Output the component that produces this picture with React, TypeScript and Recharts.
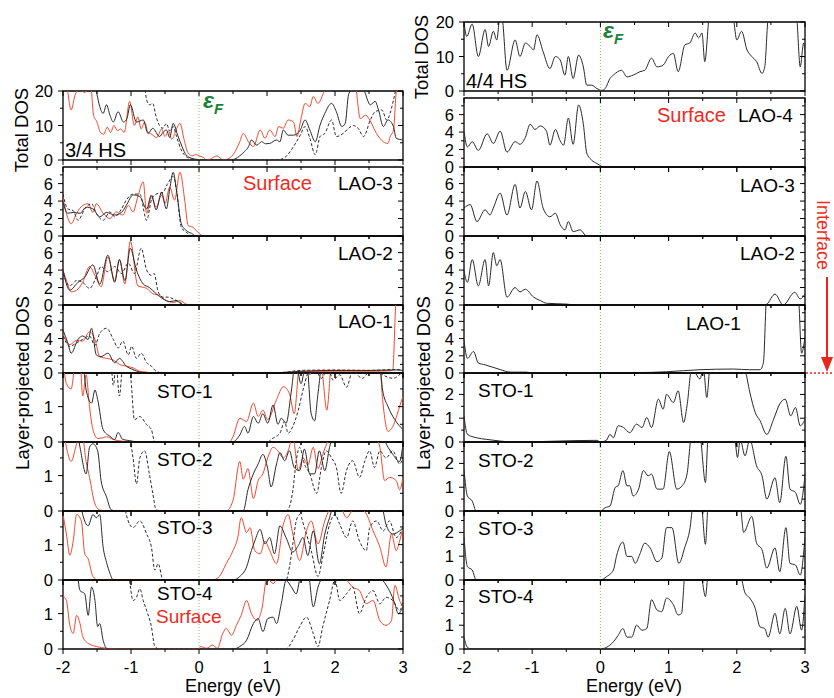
import React from "react";
import { LineChart, Line, XAxis, YAxis, ReferenceLine, ReferenceArea } from "recharts";

type Pt = [number, number];

// energy ticks (eV)
const xTicks = [-2, -1.5, -1, -0.5, 0, 0.5, 1, 1.5, 2, 2.5, 3];

// ---- 3/4 HS (left column) ----
const tot34Red: Pt[] = [[-2,24],[-1.95,22],[-1.88,14.5],[-1.82,19],[-1.75,20.5],[-1.68,19.5],[-1.6,23],[-1.55,13],[-1.5,11],[-1.45,8],[-1.4,7.5],[-1.35,9.5],[-1.3,8],[-1.25,10],[-1.2,8.5],[-1.15,9],[-1.1,8],[-1.02,17],[-0.95,10],[-0.9,12.5],[-0.85,9],[-0.8,11],[-0.75,8],[-0.7,7.5],[-0.62,6.5],[-0.55,9],[-0.5,6.8],[-0.45,8.5],[-0.4,6],[-0.35,8],[-0.28,10.6],[-0.22,6],[-0.16,2],[-0.1,1.2],[-0.04,1.6],[0,1.2],[0.06,0.8],[0.11,0.1],[0.16,0.2],[0.26,1.2],[0.36,0],[0.45,0.6],[0.5,1.5],[0.6,5.3],[0.65,7.7],[0.73,5.2],[0.8,3.9],[0.9,8.7],[0.97,6.3],[1.04,8.7],[1.12,6.8],[1.17,9.7],[1.24,9.2],[1.31,11.6],[1.39,11],[1.44,6.8],[1.5,12],[1.56,16.4],[1.63,15.5],[1.68,18.4],[1.75,16.4],[1.83,19.3],[1.88,21],[1.93,20],[2,23],[2.1,25],[2.2,22],[2.3,21],[2.37,12],[2.45,13],[2.51,11.6],[2.61,7.7],[2.71,5.3],[2.78,4.8],[2.81,6.7],[2.86,8.7],[2.9,19.5],[2.96,24],[3,25]];
const tot34Blk: Pt[] = [[-2,25],[-1.7,25],[-1.55,24],[-1.5,19],[-1.46,15.5],[-1.41,13.5],[-1.36,16],[-1.31,13],[-1.26,11],[-1.19,14],[-1.11,11],[-1.06,12],[-1.01,16],[-0.92,11],[-0.82,11.6],[-0.75,7.7],[-0.68,9.2],[-0.58,6.8],[-0.53,8],[-0.48,8.7],[-0.43,6.5],[-0.38,10.6],[-0.31,7],[-0.25,3.9],[-0.19,1.5],[-0.11,0.5],[-0.04,0.2],[0.05,0],[0.46,0],[0.53,0.3],[0.6,1.2],[0.67,2.5],[0.73,3.9],[0.77,5.8],[0.85,4.3],[0.92,5.3],[0.98,4.7],[1.04,4.8],[1.14,5.8],[1.19,5.3],[1.24,8.7],[1.31,7.2],[1.39,7.2],[1.49,8.7],[1.56,11.6],[1.63,8.7],[1.71,5.3],[1.78,10.1],[1.85,13.5],[1.95,16.4],[2.02,14],[2.1,9.7],[2.15,10.6],[2.2,19],[2.27,21],[2.35,22],[2.42,20.5],[2.52,16],[2.59,17],[2.64,14.5],[2.71,9.7],[2.78,11.6],[2.86,9.7],[2.9,6.3],[3,5.8]];
const tot34Dsh: Pt[] = [[-2,26],[-0.85,25],[-0.8,21],[-0.77,17.4],[-0.73,16],[-0.68,16.4],[-0.63,12.5],[-0.58,10],[-0.53,9.2],[-0.48,10.6],[-0.43,8.5],[-0.38,9.7],[-0.33,6.8],[-0.26,2.9],[-0.19,1],[-0.09,0.2],[0,0],[1.14,0],[1.22,0.3],[1.29,1.2],[1.39,3.9],[1.49,7.2],[1.56,9.7],[1.63,6.3],[1.71,1.5],[1.78,6.8],[1.85,7.7],[1.95,11.6],[2.02,6.8],[2.12,7.7],[2.2,9.2],[2.27,10],[2.34,9.2],[2.42,6.8],[2.52,11.6],[2.59,14],[2.69,14.5],[2.76,11.6],[2.86,17.4],[2.9,21],[2.95,25],[3,26]];

const lao3Red: Pt[] = [[-2,4.3],[-1.95,2.6],[-1.88,1.4],[-1.8,2.6],[-1.71,3.5],[-1.63,3.7],[-1.56,2.7],[-1.51,3.7],[-1.41,2.6],[-1.31,2],[-1.22,2.75],[-1.12,2.4],[-1.04,3.5],[-0.97,2.75],[-0.9,4.5],[-0.82,6.2],[-0.77,2.6],[-0.7,4.5],[-0.63,3.3],[-0.55,4.7],[-0.5,3.7],[-0.43,5.6],[-0.36,4.1],[-0.28,7.3],[-0.21,4.1],[-0.16,1.2],[-0.09,1],[0,0.3],[0.06,0],[3,0]];
const lao3Blk: Pt[] = [[-2,3.9],[-1.93,2.6],[-1.85,2.7],[-1.75,2.6],[-1.66,3.3],[-1.56,3.1],[-1.46,2.2],[-1.36,2.7],[-1.24,2.4],[-1.14,2.7],[-1.07,3.5],[-0.97,4.7],[-0.87,4.5],[-0.77,3.1],[-0.7,4.7],[-0.63,3],[-0.55,5],[-0.48,3.1],[-0.43,5.4],[-0.38,7.3],[-0.33,5.2],[-0.26,1.4],[-0.19,0.65],[-0.11,0.3],[-0.04,0],[3,0]];
const lao3Dsh: Pt[] = [[-2,4.8],[-1.93,3.1],[-1.85,2.9],[-1.78,1.8],[-1.68,3.1],[-1.58,3.7],[-1.51,2.6],[-1.41,1.8],[-1.31,2.75],[-1.24,2.2],[-1.14,3.1],[-1.07,4.1],[-0.97,4.8],[-0.87,4.8],[-0.77,1.8],[-0.7,4.1],[-0.63,4.8],[-0.53,5],[-0.46,6],[-0.38,6.8],[-0.33,5.2],[-0.26,1],[-0.19,0.45],[-0.09,0],[3,0]];

const lao2Red: Pt[] = [[-2,4],[-1.95,2.8],[-1.88,1.5],[-1.8,1.7],[-1.71,2.6],[-1.61,4.4],[-1.53,3.4],[-1.44,2.1],[-1.34,5.5],[-1.24,2.8],[-1.17,5.2],[-1.09,2.4],[-1.01,7.3],[-0.9,2.2],[-0.77,1.9],[-0.68,1.3],[-0.58,1.1],[-0.48,0.5],[-0.38,0.3],[-0.28,0.5],[-0.19,0.1],[-0.14,0],[3,0]];
const lao2Blk: Pt[] = [[-2,4],[-1.9,1.7],[-1.78,2.6],[-1.68,3.2],[-1.56,4.6],[-1.46,2.4],[-1.34,5.7],[-1.24,2.6],[-1.17,5.2],[-1.09,2.8],[-1.01,6.5],[-0.92,4],[-0.82,2.4],[-0.73,2],[-0.63,1.3],[-0.53,0.7],[-0.43,0.4],[-0.33,0.5],[-0.24,0],[3,0]];
const lao2Dsh: Pt[] = [[-2,3.6],[-1.9,2.2],[-1.8,2.8],[-1.71,2.6],[-1.61,1.9],[-1.51,3.2],[-1.44,4.4],[-1.34,3.8],[-1.24,4.4],[-1.14,3.6],[-1.04,4.8],[-0.95,3.6],[-0.85,6.5],[-0.77,4],[-0.7,3.4],[-0.66,3.6],[-0.6,1.5],[-0.53,0.9],[-0.46,0.9],[-0.38,0.7],[-0.28,0.3],[-0.2,0],[3,0]];

const lao1Red: Pt[] = [[-2,4.5],[-1.9,3.3],[-1.8,3.8],[-1.71,3.7],[-1.61,4.8],[-1.53,3.9],[-1.46,1.9],[-1.36,1.7],[-1.26,1.5],[-1.17,1],[-1.07,0.8],[-0.97,0.6],[-0.87,0.2],[-0.77,0.1],[-0.68,0],[1.2,0.05],[1.5,0.15],[2,0.2],[2.5,0.2],[2.8,0.25],[2.85,0.4],[2.9,8.5],[3,9]];
const lao1Blk: Pt[] = [[-2,5],[-1.93,3.5],[-1.88,2.3],[-1.78,3.9],[-1.71,4.3],[-1.63,3.9],[-1.58,5.2],[-1.51,2.1],[-1.44,1.9],[-1.34,2.3],[-1.24,1.2],[-1.17,1.7],[-1.07,0.8],[-0.97,0.4],[-0.87,0.1],[-0.77,0],[1.2,0.05],[1.5,0.2],[2,0.3],[2.5,0.3],[2.9,0.35],[3,0.3]];
const lao1Dsh: Pt[] = [[-2,4.3],[-1.9,3.1],[-1.8,3.5],[-1.71,3.9],[-1.61,4.3],[-1.53,3.2],[-1.46,4.6],[-1.36,5.2],[-1.26,3.9],[-1.19,2.9],[-1.12,3.7],[-1.04,2.1],[-0.99,3.1],[-0.92,1.7],[-0.85,2.3],[-0.77,1.2],[-0.7,0.8],[-0.63,0.2],[-0.53,0],[1.2,0.05],[1.5,0.3],[2,0.35],[2.5,0.3],[2.9,0.4],[3,0.3]];

const sto1Red: Pt[] = [[-2,2.3],[-1.95,1.65],[-1.88,1.5],[-1.82,2.2],[-1.75,2.3],[-1.71,1.3],[-1.66,1.9],[-1.61,1],[-1.56,0.35],[-1.49,0.1],[-1.41,0.12],[-1.36,0.15],[-1.26,0.07],[-1.12,0.02],[-1,0],[0.45,0],[0.5,0.15],[0.6,0.67],[0.7,0.58],[0.8,1.1],[0.87,0.72],[0.94,0.9],[1.01,0.63],[1.14,1.2],[1.24,1.56],[1.33,1.37],[1.4,0.8],[1.48,2.2],[1.56,2.3],[1.63,1.9],[1.7,2.3],[1.8,2.1],[1.88,0.9],[1.95,2.2],[2.1,2.3],[2.3,2.2],[2.5,2.3],[2.62,2.1],[2.66,2.1],[2.7,1.2],[2.78,0.3],[2.85,0.44],[2.95,1],[3,1.3]];
const sto1Blk: Pt[] = [[-2,2.4],[-1.8,2.3],[-1.7,2.1],[-1.66,1.47],[-1.58,1.1],[-1.53,1.47],[-1.49,1.2],[-1.41,0.35],[-1.31,0.16],[-1.24,0.07],[-1.19,0.27],[-1.12,0.07],[-1.02,0.04],[-0.9,0],[0.5,0],[0.55,0.07],[0.6,0.2],[0.67,0.44],[0.72,0.25],[0.8,0.72],[0.87,0.53],[0.94,0.8],[1.01,0.53],[1.09,1.05],[1.16,0.5],[1.21,0.67],[1.28,0.53],[1.36,1.47],[1.42,2.3],[1.5,1.65],[1.58,2.3],[1.65,0.8],[1.7,0.6],[1.75,1.37],[1.82,2.3],[2,2.2],[2.2,2.3],[2.4,2.1],[2.6,2.2],[2.66,2.1],[2.7,1.47],[2.78,1],[2.88,0.63],[3,0.35]];
const sto1Dsh: Pt[] = [[-2,2.4],[-1.3,2.3],[-1.26,1.6],[-1.22,2.2],[-1.17,1.3],[-1.12,2.2],[-1.04,2.3],[-1,1.75],[-0.95,0.63],[-0.87,0.72],[-0.77,0.49],[-0.7,0.35],[-0.65,0],[1,0],[1.09,0.11],[1.19,0.25],[1.26,0.58],[1.31,0.25],[1.38,0.44],[1.46,0.9],[1.53,1.47],[1.6,1.95],[1.68,2.2],[1.8,1.8],[1.9,2.1],[1.97,1.75],[2.07,1.9],[2.17,1.55],[2.26,2],[2.4,1.8],[2.55,2.1],[2.7,1.9],[2.85,1.8],[3,2]];

const sto2Red: Pt[] = [[-2,2.3],[-1.95,1.8],[-1.88,1.4],[-1.8,1.9],[-1.73,2.3],[-1.66,1.4],[-1.61,0.95],[-1.53,0.2],[-1.46,0.03],[-1.36,0],[0.4,0],[0.5,0.3],[0.6,1.4],[0.65,0.9],[0.72,1.2],[0.8,0.35],[0.87,0.86],[0.94,1.05],[1.01,1.5],[1.09,1.8],[1.16,1.7],[1.24,1.5],[1.31,1.7],[1.38,2.1],[1.46,1.15],[1.53,1.5],[1.6,1.3],[1.68,1.8],[1.75,1.2],[1.82,1.6],[1.9,2],[2,2.3],[2.2,2.2],[2.4,2.3],[2.6,2.1],[2.66,1.8],[2.73,0.86],[2.8,0.95],[2.9,0.86],[2.95,0.6],[3,0.95]];
const sto2Blk: Pt[] = [[-2,2.4],[-1.8,2.3],[-1.75,1.8],[-1.66,1.05],[-1.61,1.8],[-1.56,1.9],[-1.49,1.7],[-1.44,0.86],[-1.36,0.4],[-1.29,0.03],[-1.2,0],[0.65,0],[0.72,0.6],[0.8,1.05],[0.87,1.33],[0.94,1.6],[1.01,1.2],[1.06,0.68],[1.14,1.33],[1.19,1.65],[1.26,1.42],[1.33,1.7],[1.4,1.23],[1.48,1.14],[1.55,1.75],[1.63,1.05],[1.7,1.05],[1.77,1.7],[1.85,1.14],[1.92,1.8],[2,2.2],[2.2,2.3],[2.4,2.2],[2.6,2.3],[2.7,2.1],[2.78,1.8],[2.85,1.6],[2.95,1.4],[3,1.9]];
const sto2Dsh: Pt[] = [[-2,2.4],[-1.05,2.3],[-0.97,1.5],[-0.92,0.77],[-0.87,1.5],[-0.8,1.7],[-0.73,1.05],[-0.68,0.5],[-0.63,0.03],[-0.55,0],[1.28,0],[1.33,0.12],[1.38,0.58],[1.43,1.42],[1.48,1.8],[1.55,1.33],[1.63,1.05],[1.73,0.5],[1.8,1.23],[1.87,1.7],[1.95,1.5],[2.02,1.23],[2.09,0.5],[2.17,1.15],[2.26,1.42],[2.36,0.95],[2.44,1.42],[2.51,1.7],[2.58,1.23],[2.66,1.7],[2.75,1.5],[2.85,1.7],[2.95,1.33],[3,1.5]];

const sto3Red: Pt[] = [[-2,1.85],[-1.95,1.3],[-1.9,0.7],[-1.85,1.1],[-1.8,1.85],[-1.73,1.67],[-1.68,0.74],[-1.63,0.6],[-1.56,0.1],[-1.48,0],[0.2,0],[0.3,0.1],[0.4,0.46],[0.5,0.83],[0.57,1.2],[0.62,1.76],[0.7,1.34],[0.75,1.48],[0.82,0.83],[0.9,0.74],[0.97,1.1],[1.04,0.83],[1.14,0.46],[1.24,1.57],[1.31,1.85],[1.38,1.3],[1.48,0.55],[1.58,1.39],[1.65,1.67],[1.75,1.02],[1.85,1.67],[1.92,2],[2.05,2.2],[2.17,1.76],[2.3,2.1],[2.45,1.9],[2.56,1.39],[2.66,0.93],[2.75,0.37],[2.83,1.3],[2.9,0.83],[2.95,1.1],[3,1.48]];
const sto3Blk: Pt[] = [[-2,2.4],[-1.75,2.2],[-1.71,1.85],[-1.63,1.53],[-1.56,1.85],[-1.51,1.76],[-1.46,1.85],[-1.41,0.93],[-1.36,0.5],[-1.31,0.19],[-1.26,0],[0.5,0],[0.6,0.1],[0.7,0.37],[0.77,0.83],[0.82,1.1],[0.9,1.43],[0.97,1.02],[1.04,1.2],[1.11,0.74],[1.19,1.53],[1.28,1.2],[1.38,0.79],[1.46,0.97],[1.53,1.2],[1.6,0.69],[1.68,1.39],[1.77,0.46],[1.85,1.3],[1.92,1.76],[2,2.2],[2.3,2.3],[2.6,2.2],[2.7,2],[2.75,1.57],[2.85,1.3],[2.95,1.39],[3,1.48]];
const sto3Dsh: Pt[] = [[-2,2.4],[-1.1,2.2],[-1.07,1.85],[-0.97,1.48],[-0.87,1.67],[-0.77,1.3],[-0.7,0.93],[-0.65,0.28],[-0.6,0.46],[-0.53,0],[1.28,0],[1.33,0.37],[1.38,1.02],[1.43,1.67],[1.48,1.85],[1.55,1.48],[1.65,0.83],[1.75,0.1],[1.82,0.65],[1.92,1.57],[2,1.85],[2.07,1.57],[2.17,1.2],[2.26,1.67],[2.36,1.1],[2.46,0.83],[2.51,1.48],[2.61,1.67],[2.71,1.39],[2.8,1.67],[2.9,1.2],[3,1.48]];

const sto4Red: Pt[] = [[-2,1.5],[-1.95,1.37],[-1.9,0.67],[-1.85,0.44],[-1.8,0.95],[-1.75,0.72],[-1.71,0.35],[-1.63,0.16],[-1.51,0.07],[-1.36,0.02],[-1.2,0],[0,0],[0.02,0.07],[0.11,0.02],[0.2,0.11],[0.27,0.02],[0.35,0.44],[0.4,0.58],[0.48,0.39],[0.55,0.67],[0.62,0.95],[0.7,1.37],[0.77,1],[0.85,0.81],[0.92,1.09],[1,2],[1.09,1.85],[1.2,2.2],[1.4,2.3],[1.6,2.2],[1.8,2.3],[2,2.2],[2.15,2],[2.26,1.75],[2.36,1.65],[2.46,1.28],[2.56,1.37],[2.66,0.8],[2.75,0.67],[2.83,0.8],[2.88,1.8],[2.95,1.37],[3,1.2]];
const sto4Blk: Pt[] = [[-2,2.4],[-1.8,2.2],[-1.75,1.65],[-1.68,1.56],[-1.63,0.95],[-1.58,1.75],[-1.53,1.37],[-1.49,0.63],[-1.46,0.72],[-1.41,0.25],[-1.36,0.02],[-1.3,0],[0.5,0],[0.6,0.07],[0.7,0.25],[0.8,0.72],[0.87,0.86],[0.94,0.49],[1.01,0.86],[1.09,0.9],[1.14,0.72],[1.21,1.28],[1.28,1.93],[1.36,1.75],[1.43,1.56],[1.5,2.1],[1.6,2.2],[1.68,1.19],[1.75,1.75],[1.85,2.1],[2.1,2.3],[2.5,2.2],[2.8,1.65],[2.88,1.28],[2.93,1],[3,1.2]];
const sto4Dsh: Pt[] = [[-2,2.4],[-1.05,2.2],[-0.97,1.37],[-0.92,1.46],[-0.87,1.7],[-0.82,1.37],[-0.77,1.09],[-0.7,0.63],[-0.65,0.07],[-0.58,0],[1.28,0],[1.38,0.25],[1.48,0.63],[1.58,0.9],[1.68,0.44],[1.75,0.07],[1.82,0.63],[1.92,1.37],[2,1.95],[2.07,1.37],[2.17,1.56],[2.26,1.75],[2.36,1],[2.46,1.46],[2.56,1.65],[2.66,1.28],[2.75,1.46],[2.85,1.37],[2.95,1.09],[3,1.37]];

// ---- 4/4 HS (right column) ----
const tot44: Pt[] = [[-2,20],[-1.96,15.8],[-1.88,19.4],[-1.79,10],[-1.69,17.8],[-1.64,12.9],[-1.57,17.3],[-1.52,14.8],[-1.47,22],[-1.44,21],[-1.37,6],[-1.25,14.8],[-1.18,10],[-1.1,13.9],[-1.03,12.9],[-0.98,11.9],[-0.93,16.3],[-0.84,11.4],[-0.74,6.5],[-0.66,10],[-0.59,9],[-0.52,4.6],[-0.47,10],[-0.4,3.6],[-0.32,10.4],[-0.25,7],[-0.2,1.7],[-0.13,1.7],[-0.05,0.7],[0.02,0.2],[0.07,0.7],[0.14,3.6],[0.19,4.6],[0.31,6],[0.39,4.1],[0.48,4.6],[0.58,5.6],[0.65,6],[0.75,9.5],[0.83,7],[0.92,7.5],[1,10],[1.07,10.9],[1.14,5.6],[1.24,13.4],[1.31,13.9],[1.39,16.8],[1.44,15.4],[1.49,16.8],[1.53,8.5],[1.6,22],[1.75,26],[1.9,24],[1.95,21],[2,14.8],[2.07,17.3],[2.15,11.9],[2.22,10],[2.29,8.5],[2.37,5.1],[2.41,7],[2.46,21],[2.6,26],[2.85,25],[2.88,21],[2.93,7],[2.98,13.9],[3,12]];
const lao4R: Pt[] = [[-2,4.1],[-1.95,2.3],[-1.88,2.9],[-1.79,1.9],[-1.66,3.8],[-1.57,2.7],[-1.47,4.1],[-1.37,1.7],[-1.25,2.9],[-1.18,2.6],[-1.1,3.4],[-1.03,4.9],[-0.96,4.3],[-0.88,4.7],[-0.79,4.1],[-0.74,2.5],[-0.66,4.3],[-0.59,3],[-0.54,2.5],[-0.47,5.6],[-0.4,2.6],[-0.32,7.1],[-0.25,4.9],[-0.2,1.6],[-0.13,0.8],[-0.05,0.4],[0.02,0.07],[0.07,0],[3,0]];
const lao3R: Pt[] = [[-2,3.2],[-1.91,3.6],[-1.81,1.65],[-1.69,3],[-1.62,2.4],[-1.57,3.2],[-1.47,4.9],[-1.37,2.4],[-1.25,5.9],[-1.18,3.2],[-1.1,5.1],[-1.01,3],[-0.93,6.3],[-0.84,3.2],[-0.74,2.2],[-0.66,2.6],[-0.59,1.3],[-0.52,0.7],[-0.47,1.65],[-0.4,0.5],[-0.3,0.7],[-0.2,0],[3,0]];
const lao2R: Pt[] = [[-2,3.9],[-1.95,2.6],[-1.88,5.2],[-1.79,2.2],[-1.69,5.2],[-1.64,2.2],[-1.57,6],[-1.52,4.5],[-1.47,5.2],[-1.37,0.9],[-1.25,2],[-1.18,1.5],[-1.1,1.8],[-0.98,0.9],[-0.88,0.5],[-0.79,0.2],[-0.49,0.1],[-0.35,0],[2.4,0],[2.44,0.1],[2.56,1.25],[2.68,0],[2.85,1.45],[2.93,0.7],[3,1.25]];
const lao1R: Pt[] = [[-2,3.8],[-1.95,1.7],[-1.86,2.5],[-1.79,1.15],[-1.69,0.95],[-1.59,0.7],[-1.47,0.4],[-1.32,0.1],[-1.08,0.1],[-1,0],[0.73,0.07],[1.22,0.27],[1.46,0.38],[1.95,0.46],[2.19,0.38],[2.34,0.38],[2.39,1.2],[2.44,9],[2.9,9],[2.95,2.3],[3,4.2]];
const sto1R: Pt[] = [[-2,1.1],[-1.95,0.32],[-1.82,0.18],[-1.67,0.11],[-1.47,0.04],[-1.28,0],[-0.05,0.07],[0,0],[0.09,0.08],[0.14,0.32],[0.19,0.18],[0.26,0.68],[0.34,0.61],[0.43,0.39],[0.53,0.75],[0.61,0.61],[0.68,1.03],[0.75,0.61],[0.85,1.8],[0.92,1.38],[0.97,2],[1.07,1.66],[1.14,2.15],[1.22,0.82],[1.27,1.52],[1.34,3.1],[1.46,2.65],[1.51,3.1],[1.56,1.87],[1.61,3.2],[1.8,3.4],[2,3.3],[2.12,3],[2.19,2.1],[2.27,1.24],[2.34,0.9],[2.44,0.32],[2.54,0.96],[2.63,1.6],[2.71,1.8],[2.79,1.1],[2.86,1.45],[2.93,0.68],[3,0.96]];
const sto2R: Pt[] = [[-2,1.76],[-1.95,0.63],[-1.88,0.42],[-1.82,0],[0,0],[0.07,0.14],[0.14,0.21],[0.22,1],[0.26,1.06],[0.33,1.7],[0.39,1.06],[0.43,1.06],[0.48,0.63],[0.56,0.92],[0.63,1.7],[0.7,1.48],[0.75,1.55],[0.83,0.92],[0.92,0.92],[1.01,2.5],[1.12,0.92],[1.2,1.06],[1.27,1.55],[1.34,3.2],[1.46,3.1],[1.54,1.2],[1.58,3.1],[1.8,3.4],[1.97,3],[2.01,2.25],[2.05,3],[2.12,2.32],[2.19,3],[2.29,1.9],[2.37,1.48],[2.44,0.5],[2.56,1.4],[2.63,0.35],[2.72,2.3],[2.78,0.92],[2.86,0.78],[2.93,0.28],[3,1.48]];
const sto3R: Pt[] = [[-2,1.8],[-1.95,0.56],[-1.88,0.42],[-1.82,0],[0,0],[0.09,0.14],[0.19,0.42],[0.24,1.05],[0.33,1.6],[0.39,0.99],[0.46,0.99],[0.51,0.7],[0.58,1.1],[0.65,1.55],[0.73,1.34],[0.83,0.77],[0.9,0.92],[0.97,2.2],[1.05,2.2],[1.15,0.7],[1.24,1.4],[1.31,2.1],[1.36,3.1],[1.48,3.1],[1.54,1.5],[1.58,3.1],[1.8,3.4],[2.05,3.1],[2.1,2],[2.22,2.67],[2.29,1.55],[2.37,1.27],[2.44,0.5],[2.56,1.35],[2.63,0.35],[2.72,2.2],[2.78,0.7],[2.86,0.63],[2.93,0.21],[3,1.8]];
const sto4R: Pt[] = [[-2,0.5],[-1.95,0.07],[-1.88,0],[0,0],[0.09,0.07],[0.19,0.3],[0.26,0.57],[0.33,0.86],[0.39,0.5],[0.46,0.5],[0.53,1],[0.61,0.79],[0.68,0.86],[0.75,2.07],[0.83,1.64],[0.9,1.57],[0.97,2.14],[1.07,1.86],[1.14,1.43],[1.19,1.5],[1.24,3.1],[1.45,3.3],[1.49,2.9],[1.54,2.2],[1.58,3.1],[1.8,3.4],[2.05,3.1],[2.12,2.36],[2.19,2.14],[2.27,1.71],[2.34,0.93],[2.41,0.86],[2.46,0.5],[2.56,1.5],[2.63,0.64],[2.71,1.71],[2.78,0.64],[2.88,1.79],[2.95,0.79],[3,2.3]];

const RED = "#f2482c";
const BLK = "#2a2a2a";
const FONT = "'Liberation Sans', Arial, Helvetica, sans-serif";

type Series = { pts: Pt[]; color: string; dash?: string };
type PanelProps = {
  left: number; top: number; w: number; h: number;
  yMax: number; yTicks: number[]; yLabels: number[];
  series: Series[]; xLabels?: boolean;
};

const LW = 44, TM = 10, RM = 6;

function Panel({ left, top, w, h, yMax, yTicks, yLabels, series, xLabels }: PanelProps) {
  const xh = xLabels ? 40 : 8;
  const xTick = (p: any) => {
    const v = p.payload.value;
    const len = Number.isInteger(v) ? 5 : 3;
    return (
      <g>
        <line x1={p.x} x2={p.x} y1={p.y} y2={p.y + len} stroke="#000" />
        <line x1={p.x} x2={p.x} y1={p.y - h} y2={p.y - h + len} stroke="#000" />
        {xLabels && Number.isInteger(v) && (
          <text x={p.x} y={p.y + 24} textAnchor="middle" fontSize={16.5} fill="#000">{v}</text>
        )}
      </g>
    );
  };
  const yTick = (p: any) => {
    const v = p.payload.value;
    const major = yLabels.includes(v);
    const len = major ? 5 : 3;
    return (
      <g>
        <line x1={p.x - len} x2={p.x} y1={p.y} y2={p.y} stroke="#000" />
        <line x1={p.x + w - len} x2={p.x + w} y1={p.y} y2={p.y} stroke="#000" />
        {major && (
          <text x={p.x - 10} y={p.y + 6} textAnchor="end" fontSize={16.5} fill="#000">{v}</text>
        )}
      </g>
    );
  };
  return (
    <div style={{ position: "absolute", left: left - LW, top: top - TM }}>
      <LineChart width={LW + w + RM} height={TM + h + xh} margin={{ top: TM, right: RM, bottom: 0, left: 0 }}>
        <XAxis dataKey="e" type="number" domain={[-2, 3]} ticks={xTicks} interval={0} height={xh}
          tickSize={0} tickMargin={0} axisLine={false} tickLine={false} tick={xTick} allowDataOverflow />
        <YAxis type="number" domain={[0, yMax]} ticks={yTicks} interval={0} width={LW}
          tickSize={0} tickMargin={0} axisLine={false} tickLine={false} tick={yTick} allowDataOverflow />
        <ReferenceLine x={0} stroke="#6fcf6f" strokeDasharray="1 2" strokeWidth={1} />
        {series.map((s, i) => (
          <Line key={i} data={s.pts.map(([e, d]) => ({ e, d }))} dataKey="d" type="monotone"
            stroke={s.color} strokeDasharray={s.dash} strokeWidth={1} dot={false} activeDot={false}
            isAnimationActive={false} />
        ))}
        <ReferenceArea x1={-2} x2={3} y1={0} y2={yMax} fill="none" fillOpacity={0} stroke="#000" strokeWidth={1.3} />
      </LineChart>
    </div>
  );
}

const totTicks = [0, 5, 10, 15, 20];
const laoTicks = [0, 1, 2, 3, 4, 5, 6, 7];
const stoLTicks = [0, 0.5, 1, 1.5];
const stoRTicks = [0, 0.5, 1, 1.5, 2, 2.5];

const three = (r: Pt[], b: Pt[], d: Pt[]): Series[] => [
  { pts: r, color: RED },
  { pts: d, color: BLK, dash: "3 2" },
  { pts: b, color: BLK },
];
const one = (b: Pt[]): Series[] => [{ pts: b, color: BLK }];

const leftRows = [
  { top: 167, h: 69, kind: "lao", s: three(lao3Red, lao3Blk, lao3Dsh) },
  { top: 236, h: 69, kind: "lao", s: three(lao2Red, lao2Blk, lao2Dsh) },
  { top: 305, h: 68, kind: "lao", s: three(lao1Red, lao1Blk, lao1Dsh) },
  { top: 373, h: 69, kind: "sto", s: three(sto1Red, sto1Blk, sto1Dsh) },
  { top: 442, h: 69, kind: "sto", s: three(sto2Red, sto2Blk, sto2Dsh) },
  { top: 511, h: 69, kind: "sto", s: three(sto3Red, sto3Blk, sto3Dsh) },
  { top: 580, h: 69, kind: "sto", s: three(sto4Red, sto4Blk, sto4Dsh) },
];
const rightRows = [
  { top: 98, h: 69, kind: "lao", s: one(lao4R) },
  { top: 167, h: 69, kind: "lao", s: one(lao3R) },
  { top: 236, h: 69, kind: "lao", s: one(lao2R) },
  { top: 305, h: 68, kind: "lao", s: one(lao1R) },
  { top: 373, h: 69, kind: "sto", s: one(sto1R) },
  { top: 442, h: 69, kind: "sto", s: one(sto2R) },
  { top: 511, h: 69, kind: "sto", s: one(sto3R) },
  { top: 580, h: 69, kind: "sto", s: one(sto4R) },
];

const Eps = ({ x, y }: { x: number; y: number }) => (
  <text x={x} y={y} fill="#1d7f3c" fontWeight="bold" fontStyle="italic" fontSize={23}>
    ε<tspan fontSize={15} dy={6}>F</tspan>
  </text>
);

export default function App() {
  const lab = { fontSize: 19, fill: "#000" };
  return (
    <div style={{ position: "absolute", left: 0, top: 0, width: 834, height: 698, background: "#fff", fontFamily: FONT }}>
      <Panel left={63} top={91} w={340} h={69} yMax={20} yTicks={totTicks} yLabels={[0, 10, 20]}
        series={three(tot34Red, tot34Blk, tot34Dsh)} />
      {leftRows.map((r, i) => (
        <Panel key={"l" + i} left={63} top={r.top} w={340} h={r.h}
          yMax={r.kind === "lao" ? 7.9 : 1.95}
          yTicks={r.kind === "lao" ? laoTicks : stoLTicks}
          yLabels={r.kind === "lao" ? [0, 2, 4, 6] : [0, 1]}
          series={r.s} xLabels={i === leftRows.length - 1} />
      ))}
      <Panel left={464} top={22} w={341} h={69} yMax={20} yTicks={totTicks} yLabels={[0, 10, 20]}
        series={one(tot44)} />
      {rightRows.map((r, i) => (
        <Panel key={"r" + i} left={464} top={r.top} w={341} h={r.h}
          yMax={r.kind === "lao" ? 7.9 : 2.9}
          yTicks={r.kind === "lao" ? laoTicks : stoRTicks}
          yLabels={r.kind === "lao" ? [0, 2, 4, 6] : [0, 1, 2]}
          series={r.s} xLabels={i === rightRows.length - 1} />
      ))}
      <svg width={834} height={698} style={{ position: "absolute", left: 0, top: 0, pointerEvents: "none" }}>
        {/* axis titles */}
        <text transform="translate(28,130) rotate(-90)" textAnchor="middle" fontSize={18.5}>Total DOS</text>
        <text transform="translate(29,383) rotate(-90)" textAnchor="middle" fontSize={18.5}>Layer-projected DOS</text>
        <text transform="translate(428,57) rotate(-90)" textAnchor="middle" fontSize={18.5}>Total DOS</text>
        <text transform="translate(430,383) rotate(-90)" textAnchor="middle" fontSize={18.5}>Layer-projected DOS</text>
        <text x={233} y={692} textAnchor="middle" fontSize={18}>Energy (eV)</text>
        <text x={634} y={692} textAnchor="middle" fontSize={18}>Energy (eV)</text>

        {/* left column labels */}
        <text x={65} y={157} fontSize={20}>3/4 HS</text>
        <Eps x={203} y={108} />
        <text x={243} y={190} fontSize={20} fill="#f02a1e">Surface</text>
        <text x={338} y={190} {...lab}>LAO-3</text>
        <text x={338} y={260} {...lab}>LAO-2</text>
        <text x={338} y={328} {...lab}>LAO-1</text>
        <text x={157} y={398} {...lab}>STO-1</text>
        <text x={157} y={466} {...lab}>STO-2</text>
        <text x={157} y={534} {...lab}>STO-3</text>
        <text x={157} y={600} {...lab}>STO-4</text>
        <text x={156} y={623} fontSize={19} fill="#f02a1e">Surface</text>

        {/* right column labels */}
        <text x={466} y={88} fontSize={20}>4/4 HS</text>
        <Eps x={603} y={38} />
        <text x={657} y={122} fontSize={20} fill="#f02a1e">Surface</text>
        <text x={738} y={122} {...lab}>LAO-4</text>
        <text x={740} y={192} {...lab}>LAO-3</text>
        <text x={740} y={260} {...lab}>LAO-2</text>
        <text x={686} y={330} {...lab}>LAO-1</text>
        <text x={478} y={397} {...lab}>STO-1</text>
        <text x={478} y={467} {...lab}>STO-2</text>
        <text x={478} y={535} {...lab}>STO-3</text>
        <text x={478} y={603} {...lab}>STO-4</text>

        {/* interface marker */}
        <text transform="translate(817,235) rotate(90)" textAnchor="middle" fontSize={18} fill="#f02a1e">Interface</text>
        <line x1={827} y1={277} x2={827} y2={360} stroke="#e8261c" strokeWidth={2} />
        <polygon points="821,357 833,357 827,372" fill="#e8261c" />
        <line x1={806} y1={373} x2={834} y2={373} stroke="#e8261c" strokeWidth={1.6} strokeDasharray="2 2" />
      </svg>
    </div>
  );
}
